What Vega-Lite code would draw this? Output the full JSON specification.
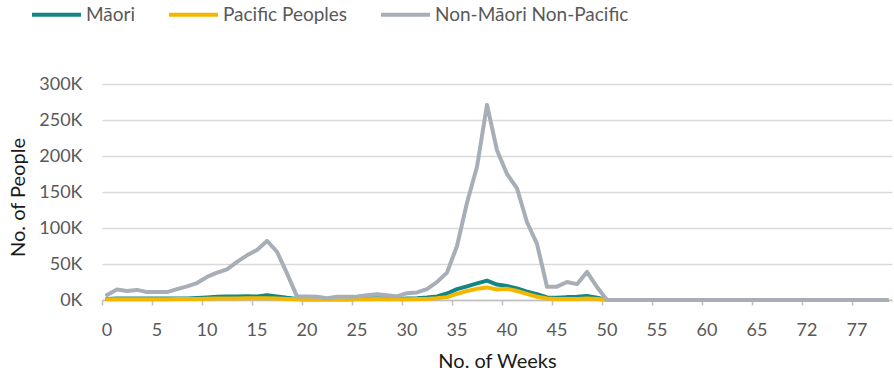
{
"$schema": "https://vega.github.io/schema/vega-lite/v6.json",
"width": 790, "height": 216,
"autosize": {"type": "none"},
"padding": {"left": 102, "top": 84, "right": 2, "bottom": 76},
"background": "white",
"config": {"view": {"stroke": null}, "font": "Lato"},
"data": {"values": [
{"idx":0,"week":"0","group":"Māori","people":1500},{"idx":1,"week":"1","group":"Māori","people":2000},{"idx":2,"week":"2","group":"Māori","people":2000},{"idx":3,"week":"3","group":"Māori","people":2200},{"idx":4,"week":"4","group":"Māori","people":2200},{"idx":5,"week":"5","group":"Māori","people":2000},{"idx":6,"week":"6","group":"Māori","people":2000},{"idx":7,"week":"7","group":"Māori","people":2000},{"idx":8,"week":"8","group":"Māori","people":2200},{"idx":9,"week":"9","group":"Māori","people":2800},
{"idx":10,"week":"10","group":"Māori","people":3500},{"idx":11,"week":"11","group":"Māori","people":4500},{"idx":12,"week":"12","group":"Māori","people":5000},{"idx":13,"week":"13","group":"Māori","people":5000},{"idx":14,"week":"14","group":"Māori","people":5200},{"idx":15,"week":"15","group":"Māori","people":5000},{"idx":16,"week":"16","group":"Māori","people":6500},{"idx":17,"week":"17","group":"Māori","people":5000},{"idx":18,"week":"18","group":"Māori","people":3000},{"idx":19,"week":"19","group":"Māori","people":1500},
{"idx":20,"week":"20","group":"Māori","people":1200},{"idx":21,"week":"21","group":"Māori","people":1200},{"idx":22,"week":"22","group":"Māori","people":1000},{"idx":23,"week":"23","group":"Māori","people":1200},{"idx":24,"week":"24","group":"Māori","people":1200},{"idx":25,"week":"25","group":"Māori","people":1500},{"idx":26,"week":"26","group":"Māori","people":2000},{"idx":27,"week":"27","group":"Māori","people":2500},{"idx":28,"week":"28","group":"Māori","people":2000},{"idx":29,"week":"29","group":"Māori","people":1500},
{"idx":30,"week":"30","group":"Māori","people":2000},{"idx":31,"week":"31","group":"Māori","people":2500},{"idx":32,"week":"32","group":"Māori","people":3500},{"idx":33,"week":"33","group":"Māori","people":5000},{"idx":34,"week":"34","group":"Māori","people":9000},{"idx":35,"week":"35","group":"Māori","people":15000},{"idx":36,"week":"36","group":"Māori","people":19000},{"idx":37,"week":"37","group":"Māori","people":23000},{"idx":38,"week":"38","group":"Māori","people":27000},{"idx":39,"week":"39","group":"Māori","people":21500},
{"idx":40,"week":"40","group":"Māori","people":19500},{"idx":41,"week":"41","group":"Māori","people":16000},{"idx":42,"week":"42","group":"Māori","people":11500},{"idx":43,"week":"43","group":"Māori","people":8000},{"idx":44,"week":"44","group":"Māori","people":3500},{"idx":45,"week":"45","group":"Māori","people":3000},{"idx":46,"week":"46","group":"Māori","people":4000},{"idx":47,"week":"47","group":"Māori","people":4500},{"idx":48,"week":"48","group":"Māori","people":5500},{"idx":49,"week":"49","group":"Māori","people":3000},
{"idx":50,"week":"50","group":"Māori","people":500},{"idx":51,"week":"51","group":"Māori","people":0},{"idx":52,"week":"52","group":"Māori","people":0},{"idx":53,"week":"53","group":"Māori","people":0},{"idx":54,"week":"54","group":"Māori","people":0},{"idx":55,"week":"55","group":"Māori","people":0},{"idx":56,"week":"56","group":"Māori","people":0},{"idx":57,"week":"57","group":"Māori","people":0},{"idx":58,"week":"58","group":"Māori","people":0},{"idx":59,"week":"59","group":"Māori","people":0},
{"idx":60,"week":"60","group":"Māori","people":0},{"idx":61,"week":"61","group":"Māori","people":0},{"idx":62,"week":"62","group":"Māori","people":0},{"idx":63,"week":"63","group":"Māori","people":0},{"idx":64,"week":"64","group":"Māori","people":0},{"idx":65,"week":"65","group":"Māori","people":0},{"idx":66,"week":"66","group":"Māori","people":0},{"idx":67,"week":"67","group":"Māori","people":0},{"idx":68,"week":"69","group":"Māori","people":0},{"idx":69,"week":"70","group":"Māori","people":0},
{"idx":70,"week":"72","group":"Māori","people":0},{"idx":71,"week":"73","group":"Māori","people":0},{"idx":72,"week":"74","group":"Māori","people":0},{"idx":73,"week":"75","group":"Māori","people":0},{"idx":74,"week":"76","group":"Māori","people":0},{"idx":75,"week":"77","group":"Māori","people":0},{"idx":76,"week":"78","group":"Māori","people":0},{"idx":77,"week":"79","group":"Māori","people":0},{"idx":78,"week":"80","group":"Māori","people":0},

{"idx":0,"week":"0","group":"Pacific Peoples","people":1000},{"idx":1,"week":"1","group":"Pacific Peoples","people":1200},{"idx":2,"week":"2","group":"Pacific Peoples","people":1200},{"idx":3,"week":"3","group":"Pacific Peoples","people":1200},{"idx":4,"week":"4","group":"Pacific Peoples","people":1200},{"idx":5,"week":"5","group":"Pacific Peoples","people":1200},{"idx":6,"week":"6","group":"Pacific Peoples","people":1200},{"idx":7,"week":"7","group":"Pacific Peoples","people":1300},{"idx":8,"week":"8","group":"Pacific Peoples","people":1400},{"idx":9,"week":"9","group":"Pacific Peoples","people":1500},
{"idx":10,"week":"10","group":"Pacific Peoples","people":1800},{"idx":11,"week":"11","group":"Pacific Peoples","people":2000},{"idx":12,"week":"12","group":"Pacific Peoples","people":2200},{"idx":13,"week":"13","group":"Pacific Peoples","people":2200},{"idx":14,"week":"14","group":"Pacific Peoples","people":2300},{"idx":15,"week":"15","group":"Pacific Peoples","people":2300},{"idx":16,"week":"16","group":"Pacific Peoples","people":2500},{"idx":17,"week":"17","group":"Pacific Peoples","people":2000},{"idx":18,"week":"18","group":"Pacific Peoples","people":1500},{"idx":19,"week":"19","group":"Pacific Peoples","people":1000},
{"idx":20,"week":"20","group":"Pacific Peoples","people":1000},{"idx":21,"week":"21","group":"Pacific Peoples","people":1000},{"idx":22,"week":"22","group":"Pacific Peoples","people":1000},{"idx":23,"week":"23","group":"Pacific Peoples","people":1000},{"idx":24,"week":"24","group":"Pacific Peoples","people":1000},{"idx":25,"week":"25","group":"Pacific Peoples","people":1200},{"idx":26,"week":"26","group":"Pacific Peoples","people":1200},{"idx":27,"week":"27","group":"Pacific Peoples","people":1300},{"idx":28,"week":"28","group":"Pacific Peoples","people":1200},{"idx":29,"week":"29","group":"Pacific Peoples","people":1200},
{"idx":30,"week":"30","group":"Pacific Peoples","people":1200},{"idx":31,"week":"31","group":"Pacific Peoples","people":1300},{"idx":32,"week":"32","group":"Pacific Peoples","people":1500},{"idx":33,"week":"33","group":"Pacific Peoples","people":2500},{"idx":34,"week":"34","group":"Pacific Peoples","people":4000},{"idx":35,"week":"35","group":"Pacific Peoples","people":8500},{"idx":36,"week":"36","group":"Pacific Peoples","people":12500},{"idx":37,"week":"37","group":"Pacific Peoples","people":15500},{"idx":38,"week":"38","group":"Pacific Peoples","people":17500},{"idx":39,"week":"39","group":"Pacific Peoples","people":14500},
{"idx":40,"week":"40","group":"Pacific Peoples","people":15500},{"idx":41,"week":"41","group":"Pacific Peoples","people":12500},{"idx":42,"week":"42","group":"Pacific Peoples","people":8500},{"idx":43,"week":"43","group":"Pacific Peoples","people":4500},{"idx":44,"week":"44","group":"Pacific Peoples","people":2000},{"idx":45,"week":"45","group":"Pacific Peoples","people":1500},{"idx":46,"week":"46","group":"Pacific Peoples","people":1500},{"idx":47,"week":"47","group":"Pacific Peoples","people":1500},{"idx":48,"week":"48","group":"Pacific Peoples","people":2000},{"idx":49,"week":"49","group":"Pacific Peoples","people":1500},
{"idx":50,"week":"50","group":"Pacific Peoples","people":500},{"idx":51,"week":"51","group":"Pacific Peoples","people":0},{"idx":52,"week":"52","group":"Pacific Peoples","people":0},{"idx":53,"week":"53","group":"Pacific Peoples","people":0},{"idx":54,"week":"54","group":"Pacific Peoples","people":0},{"idx":55,"week":"55","group":"Pacific Peoples","people":0},{"idx":56,"week":"56","group":"Pacific Peoples","people":0},{"idx":57,"week":"57","group":"Pacific Peoples","people":0},{"idx":58,"week":"58","group":"Pacific Peoples","people":0},{"idx":59,"week":"59","group":"Pacific Peoples","people":0},
{"idx":60,"week":"60","group":"Pacific Peoples","people":0},{"idx":61,"week":"61","group":"Pacific Peoples","people":0},{"idx":62,"week":"62","group":"Pacific Peoples","people":0},{"idx":63,"week":"63","group":"Pacific Peoples","people":0},{"idx":64,"week":"64","group":"Pacific Peoples","people":0},{"idx":65,"week":"65","group":"Pacific Peoples","people":0},{"idx":66,"week":"66","group":"Pacific Peoples","people":0},{"idx":67,"week":"67","group":"Pacific Peoples","people":0},{"idx":68,"week":"69","group":"Pacific Peoples","people":0},{"idx":69,"week":"70","group":"Pacific Peoples","people":0},
{"idx":70,"week":"72","group":"Pacific Peoples","people":0},{"idx":71,"week":"73","group":"Pacific Peoples","people":0},{"idx":72,"week":"74","group":"Pacific Peoples","people":0},{"idx":73,"week":"75","group":"Pacific Peoples","people":0},{"idx":74,"week":"76","group":"Pacific Peoples","people":0},{"idx":75,"week":"77","group":"Pacific Peoples","people":0},{"idx":76,"week":"78","group":"Pacific Peoples","people":0},{"idx":77,"week":"79","group":"Pacific Peoples","people":0},{"idx":78,"week":"80","group":"Pacific Peoples","people":0},

{"idx":0,"week":"0","group":"Non-Māori Non-Pacific","people":7000},{"idx":1,"week":"1","group":"Non-Māori Non-Pacific","people":14500},{"idx":2,"week":"2","group":"Non-Māori Non-Pacific","people":12500},{"idx":3,"week":"3","group":"Non-Māori Non-Pacific","people":14000},{"idx":4,"week":"4","group":"Non-Māori Non-Pacific","people":11000},{"idx":5,"week":"5","group":"Non-Māori Non-Pacific","people":11000},{"idx":6,"week":"6","group":"Non-Māori Non-Pacific","people":11000},{"idx":7,"week":"7","group":"Non-Māori Non-Pacific","people":15000},{"idx":8,"week":"8","group":"Non-Māori Non-Pacific","people":19000},{"idx":9,"week":"9","group":"Non-Māori Non-Pacific","people":23500},
{"idx":10,"week":"10","group":"Non-Māori Non-Pacific","people":32000},{"idx":11,"week":"11","group":"Non-Māori Non-Pacific","people":38000},{"idx":12,"week":"12","group":"Non-Māori Non-Pacific","people":42500},{"idx":13,"week":"13","group":"Non-Māori Non-Pacific","people":53000},{"idx":14,"week":"14","group":"Non-Māori Non-Pacific","people":62000},{"idx":15,"week":"15","group":"Non-Māori Non-Pacific","people":69500},{"idx":16,"week":"16","group":"Non-Māori Non-Pacific","people":82000},{"idx":17,"week":"17","group":"Non-Māori Non-Pacific","people":67000},{"idx":18,"week":"18","group":"Non-Māori Non-Pacific","people":37000},{"idx":19,"week":"19","group":"Non-Māori Non-Pacific","people":5000},
{"idx":20,"week":"20","group":"Non-Māori Non-Pacific","people":5000},{"idx":21,"week":"21","group":"Non-Māori Non-Pacific","people":4500},{"idx":22,"week":"22","group":"Non-Māori Non-Pacific","people":2500},{"idx":23,"week":"23","group":"Non-Māori Non-Pacific","people":4500},{"idx":24,"week":"24","group":"Non-Māori Non-Pacific","people":4500},{"idx":25,"week":"25","group":"Non-Māori Non-Pacific","people":5000},{"idx":26,"week":"26","group":"Non-Māori Non-Pacific","people":6500},{"idx":27,"week":"27","group":"Non-Māori Non-Pacific","people":8000},{"idx":28,"week":"28","group":"Non-Māori Non-Pacific","people":6500},{"idx":29,"week":"29","group":"Non-Māori Non-Pacific","people":5000},
{"idx":30,"week":"30","group":"Non-Māori Non-Pacific","people":9500},{"idx":31,"week":"31","group":"Non-Māori Non-Pacific","people":10500},{"idx":32,"week":"32","group":"Non-Māori Non-Pacific","people":15000},{"idx":33,"week":"33","group":"Non-Māori Non-Pacific","people":25000},{"idx":34,"week":"34","group":"Non-Māori Non-Pacific","people":38000},{"idx":35,"week":"35","group":"Non-Māori Non-Pacific","people":75000},{"idx":36,"week":"36","group":"Non-Māori Non-Pacific","people":135000},{"idx":37,"week":"37","group":"Non-Māori Non-Pacific","people":185000},{"idx":38,"week":"38","group":"Non-Māori Non-Pacific","people":271000},{"idx":39,"week":"39","group":"Non-Māori Non-Pacific","people":208000},
{"idx":40,"week":"40","group":"Non-Māori Non-Pacific","people":175000},{"idx":41,"week":"41","group":"Non-Māori Non-Pacific","people":155000},{"idx":42,"week":"42","group":"Non-Māori Non-Pacific","people":108000},{"idx":43,"week":"43","group":"Non-Māori Non-Pacific","people":78000},{"idx":44,"week":"44","group":"Non-Māori Non-Pacific","people":18500},{"idx":45,"week":"45","group":"Non-Māori Non-Pacific","people":18500},{"idx":46,"week":"46","group":"Non-Māori Non-Pacific","people":25000},{"idx":47,"week":"47","group":"Non-Māori Non-Pacific","people":22000},{"idx":48,"week":"48","group":"Non-Māori Non-Pacific","people":39000},{"idx":49,"week":"49","group":"Non-Māori Non-Pacific","people":18000},
{"idx":50,"week":"50","group":"Non-Māori Non-Pacific","people":0},{"idx":51,"week":"51","group":"Non-Māori Non-Pacific","people":0},{"idx":52,"week":"52","group":"Non-Māori Non-Pacific","people":0},{"idx":53,"week":"53","group":"Non-Māori Non-Pacific","people":0},{"idx":54,"week":"54","group":"Non-Māori Non-Pacific","people":0},{"idx":55,"week":"55","group":"Non-Māori Non-Pacific","people":0},{"idx":56,"week":"56","group":"Non-Māori Non-Pacific","people":0},{"idx":57,"week":"57","group":"Non-Māori Non-Pacific","people":0},{"idx":58,"week":"58","group":"Non-Māori Non-Pacific","people":0},{"idx":59,"week":"59","group":"Non-Māori Non-Pacific","people":0},
{"idx":60,"week":"60","group":"Non-Māori Non-Pacific","people":0},{"idx":61,"week":"61","group":"Non-Māori Non-Pacific","people":0},{"idx":62,"week":"62","group":"Non-Māori Non-Pacific","people":0},{"idx":63,"week":"63","group":"Non-Māori Non-Pacific","people":0},{"idx":64,"week":"64","group":"Non-Māori Non-Pacific","people":0},{"idx":65,"week":"65","group":"Non-Māori Non-Pacific","people":0},{"idx":66,"week":"66","group":"Non-Māori Non-Pacific","people":0},{"idx":67,"week":"67","group":"Non-Māori Non-Pacific","people":0},{"idx":68,"week":"69","group":"Non-Māori Non-Pacific","people":0},{"idx":69,"week":"70","group":"Non-Māori Non-Pacific","people":0},
{"idx":70,"week":"72","group":"Non-Māori Non-Pacific","people":0},{"idx":71,"week":"73","group":"Non-Māori Non-Pacific","people":0},{"idx":72,"week":"74","group":"Non-Māori Non-Pacific","people":0},{"idx":73,"week":"75","group":"Non-Māori Non-Pacific","people":0},{"idx":74,"week":"76","group":"Non-Māori Non-Pacific","people":0},{"idx":75,"week":"77","group":"Non-Māori Non-Pacific","people":0},{"idx":76,"week":"78","group":"Non-Māori Non-Pacific","people":0},{"idx":77,"week":"79","group":"Non-Māori Non-Pacific","people":0},{"idx":78,"week":"80","group":"Non-Māori Non-Pacific","people":0}
]},
"mark": {"type": "line", "strokeWidth": 4, "strokeJoin": "round", "strokeCap": "round"},
"encoding": {
  "x": {"field": "week", "type": "ordinal", "sort": {"field": "idx", "op": "min"}, "bandPosition": 0.5,
    "scale": {"type": "band", "paddingInner": 0, "paddingOuter": 0},
    "axis": {"values": ["0","5","10","15","20","25","30","35","40","45","50","55","60","65","72","77"],
      "bandPosition": 0, "labelAngle": 0, "labelDx": 5, "labelFont": "Lato", "labelFontSize": 18, "labelColor": "#595959",
      "labelBaseline": "alphabetic", "labelPadding": 30, "tickSize": 5, "tickColor": "#bfbfbf", "tickWidth": 1.5,
      "domainColor": "#bfbfbf", "domainWidth": 1.5, "grid": false,
      "title": "No. of Weeks", "titleFont": "Lato", "titleFontSize": 20, "titleFontWeight": "normal", "titleColor": "#1a1a1a",
      "titleX": 395, "titleY": 67, "titleBaseline": "alphabetic", "titleAlign": "center"}},
  "y": {"field": "people", "type": "quantitative", "scale": {"domain": [0, 300000]},
    "axis": {"values": [0, 50000, 100000, 150000, 200000, 250000, 300000],
      "labelExpr": "(datum.value / 1000) + 'K'", "domain": false, "ticks": false, "labelPadding": 20,
      "labelFont": "Lato", "labelFontSize": 18, "labelColor": "#595959", "gridColor": "#d9d9d9", "gridWidth": 1.5,
      "title": "No. of People", "titleFont": "Lato", "titleFontSize": 20, "titleFontWeight": "normal", "titleColor": "#1a1a1a",
      "titleX": -84, "titleY": 113, "titleAngle": 270, "titleAlign": "center", "titleBaseline": "middle"}},
  "color": {"field": "group", "type": "nominal",
    "scale": {"domain": ["Māori", "Pacific Peoples", "Non-Māori Non-Pacific"], "range": ["#138585", "#f4b700", "#a7aeb7"]},
    "legend": {"title": null, "orient": "none", "legendX": -72, "legendY": -96, "direction": "horizontal",
      "symbolType": "stroke", "symbolSize": 2400, "symbolStrokeWidth": 4, "labelFont": "Lato", "labelFontSize": 19,
      "labelColor": "#595959", "labelOffset": 3, "labelLimit": 0, "columnPadding": 25, "padding": 0}}
}
}
